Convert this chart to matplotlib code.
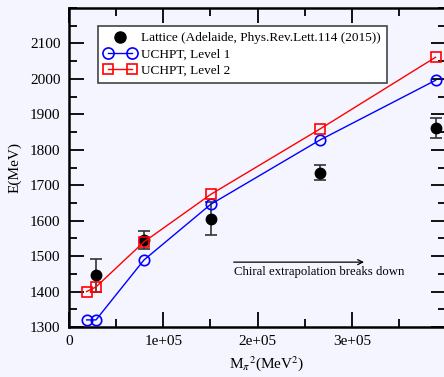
import matplotlib.pyplot as plt
from matplotlib.lines import Line2D
from matplotlib.legend_handler import HandlerLine2D
from matplotlib.ticker import MultipleLocator, FixedLocator

# data
lat_x = [2.86e4, 7.95e4, 1.502e5, 2.659e5, 3.889e5]
lat_y = [1446, 1546, 1606, 1735, 1862]
lat_err = [47, 25, 47, 21, 28]

lev_x = [1.87e4, 2.86e4, 7.95e4, 1.503e5, 2.659e5, 3.889e5]
lev1_y = [1320, 1320, 1489, 1646, 1827, 1996]
lev2_y = [1400, 1413, 1540, 1674, 1858, 2061]

x_ticks = [0, 1e5, 2e5, 3e5, 4e5]
x_ticklabels = ['0', '1e+05', '2e+05', '3e+05', '']

bg = '#f5f5ff'
plt.rcParams['font.family'] = 'Liberation Serif'
plt.rcParams['mathtext.fontset'] = 'stix'

fig = plt.figure(figsize=(4.44, 3.77), dpi=100, facecolor=bg)
ax = fig.add_axes([69/444, 50/377, 377/444, 319/377], facecolor=bg)

ax.plot(lev_x, lev1_y, color='blue', lw=1, marker='o', ms=7.5, mfc='none', mec='blue', mew=1.2, zorder=3)
ax.plot(lev_x, lev2_y, color='red', lw=1, marker='s', ms=7, mfc='none', mec='red', mew=1.2, zorder=3)
ax.errorbar(lat_x, lat_y, yerr=lat_err, fmt='o', color='black', ms=7.5, ecolor='#333333',
            elinewidth=1.2, capsize=4, capthick=1.2, zorder=2)

ax.set_xlim(0, 4e5)
ax.set_ylim(1300, 2200)
ax.xaxis.set_major_locator(FixedLocator(x_ticks))
ax.xaxis.set_minor_locator(MultipleLocator(5e4))
ax.set_xticklabels(x_ticklabels)
ax.yaxis.set_major_locator(MultipleLocator(100))
ax.yaxis.set_minor_locator(MultipleLocator(50))
ax.set_yticks(range(1300, 2200, 100))
ax.tick_params(which='both', direction='in', top=True, right=True, labelsize=11, width=1.3, pad=6)
ax.tick_params(which='major', length=11)
ax.tick_params(which='minor', length=6)
for s in ax.spines.values():
    s.set_linewidth(1.8)

ax.set_xlabel(r'M$_\pi$$^2$(MeV$^2$)', fontsize=11, labelpad=2)
ax.xaxis.set_label_coords((267 - 69) / 377, -0.085)
ax.set_ylabel('E(MeV)', fontsize=11, labelpad=6)

ax.annotate('', xy=(3.16e5, 1483), xytext=(1.718e5, 1483),
            arrowprops=dict(arrowstyle='->', color='black', lw=0.9, mutation_scale=9))
ax.text(1.747e5, 1456, 'Chiral extrapolation breaks down', fontsize=9.2, va='center', ha='left')

h_lat = Line2D([], [], ls='none', marker='o', color='black', ms=8)
h1 = Line2D([], [], color='blue', lw=1, marker='o', ms=8, mfc='none', mec='blue', mew=1.2)
h2 = Line2D([], [], color='red', lw=1, marker='s', ms=7, mfc='none', mec='red', mew=1.2)
leg = ax.legend([h_lat, h1, h2],
                ['Lattice (Adelaide, Phys.Rev.Lett.114 (2015))', 'UCHPT, Level 1', 'UCHPT, Level 2'],
                handler_map={h_lat: HandlerLine2D(numpoints=1)}, numpoints=2,
                loc='upper left', bbox_to_anchor=((98 - 69) / 377, (327 - 26) / 319),
                fontsize=9.5, fancybox=False, framealpha=1, edgecolor='#444444',
                handlelength=2.4, handletextpad=0.4, borderpad=0.45, labelspacing=0.3,
                borderaxespad=0)
leg.get_frame().set_linewidth(1.2)

plt.savefig('out.png', dpi=100, facecolor=bg)
